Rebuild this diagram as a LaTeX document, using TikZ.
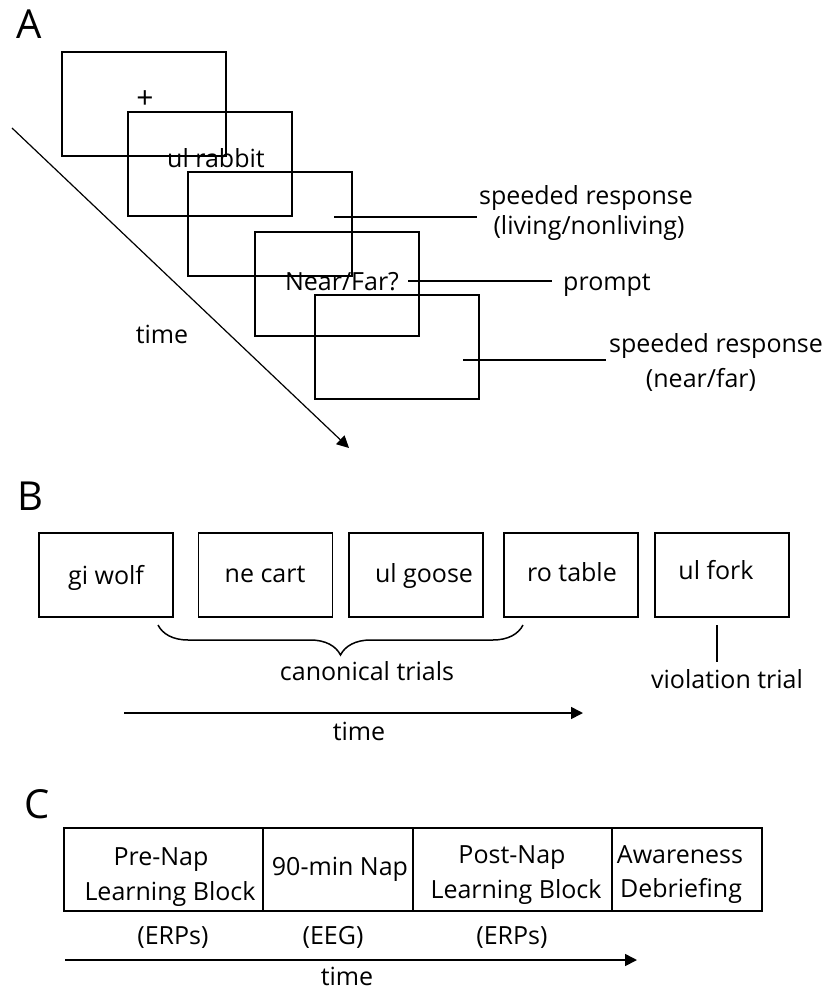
\documentclass[tikz,border=0pt]{standalone}
\usepackage{fontspec}
\setmainfont{Open Sans}
\usetikzlibrary{positioning,arrows.meta,decorations.pathreplacing}

\begin{document}
\begin{tikzpicture}[
	x = 1pt, y = -1pt, % pixel grid, y runs downwards
	> = {Triangle[length=12pt,width=12pt]}, % arrow head style
	font = \fontsize{25}{34}\selectfont,
	screen/.style = {draw, line width=1.5pt, minimum width=164pt, minimum height=104pt, inner sep=0pt},
	trial/.style = {draw, line width=1.5pt, minimum width=134pt, minimum height=84pt, inner sep=0pt},
	block/.style = {draw, line width=2.6pt, minimum height=83pt, inner sep=0pt, outer sep=0pt},
	word/.style = {anchor=base, inner sep=0pt},
	panel/.style = {anchor=base west, inner sep=0pt, font=\fontsize{40}{40}\selectfont},
	lead/.style = {line width=1.5pt}
	]
	\useasboundingbox (0,0) rectangle (830,992);
	
	% A: trial sequence
	\node[panel] (lA) at (16,39) {A};
	\node[screen] (s1) at (144,104) {};
	\node[screen] (s2) at (210,164) {};
	\node[screen] (s3) at (270,224) {};
	\node[screen] (s4) at (337,284) {};
	\node[screen] (s5) at (397,347) {};
	
	\node[inner sep=0pt, font=\fontsize{30}{30}\selectfont] (fix) at (145,100) {+};
	\node[word] (cue) at (216,168) {ul rabbit};
	\node[word] (nf) at (342,290) {Near/Far?};
	
	\node[word] (sr1) at (586,205) {speeded response};
	\node[word] (sr1b) at (589,235) {(living/nonliving)};
	\node[word] (pr) at (607,290) {prompt};
	\node[word] (sr2) at (716,352) {speeded response};
	\node[word] (sr2b) at (701,387) {(near/far)};
	
	\coordinate (r1) at (334,217);
	\coordinate (r3) at (463,360);
	\draw[lead, shorten >=2pt] (r1) -- (r1 -| sr1.west);
	\draw[lead, shorten <=9pt, shorten >=11pt] (nf.east) -- (nf.east -| pr.west);
	\draw[lead, shorten >=3pt] (r3) -- (r3 -| sr2.west);
	
	\coordinate (tA0) at (12,128);
	\coordinate (tA1) at (349,448);
	\draw[->, line width=1.2pt] (tA0) -- (tA1);
	\node[word] (timeA) at (162,343) {time};
	
	% B: canonical and violation trials
	\node[panel] (lB) at (17,510) {B};
	\node[trial] (t1) at (106,575) {};
	\node[trial] (t2) at (265.5,575) {};
	\node[trial] (t3) at (416,575) {};
	\node[trial] (t4) at (571,575) {};
	\node[trial] (t5) at (722,575) {};
	
	\node[word] (w1) at (106,584) {gi wolf};
	\node[word] (w2) at (265,582) {ne cart};
	\node[word] (w3) at (424,582) {ul goose};
	\node[word] (w4) at (572,581) {ro table};
	\node[word] (w5) at (716,579) {ul fork};
	
	\coordinate (br0) at (158,625);
	\coordinate (br1) at (523,625);
	\draw[lead, decorate, decoration={brace, mirror, amplitude=30pt}] (br0) -- (br1);
	\node[word] (can) at (367,680) {canonical trials};
	
	\coordinate (v0) at (717,625);
	\node[word] (vt) at (727,688) {violation trial};
	\draw[lead, shorten >=7pt] (v0) -- (v0 |- vt.north);
	
	\coordinate (tB0) at (124,713);
	\coordinate (tB1) at (583,713);
	\draw[->, line width=1.6pt] (tB0) -- (tB1);
	\node[word] (timeB) at (359,740) {time};
	
	% C: session timeline
	\node[panel] (lC) at (24,818) {C};
	\node[block, minimum width=199pt] (pre) at (163.5,869.5) {};
	\node[block, minimum width=150pt, right=0pt of pre] (nap) {};
	\node[block, minimum width=199pt, right=0pt of nap] (post) {};
	\node[block, minimum width=150pt, right=0pt of post] (aware) {};
	
	\node[word] (pre1) at (161,865) {Pre-Nap};
	\node[word] (pre2) at (170,900) {Learning Block};
	\node[word] (nap1) at (340,875) {90-min Nap};
	\node[word] (post1) at (512,863) {Post-Nap};
	\node[word] (post2) at (516,898) {Learning Block};
	\node[word] (aw1) at (680,863) {Awareness};
	\node[word] (aw2) at (681,897) {Debriefing};
	
	\node[word] (m1) at (173,944) {(ERPs)};
	\node[word] (m2) at (333,944) {(EEG)};
	\node[word] (m3) at (512,944) {(ERPs)};
	
	\coordinate (tC0) at (65,960);
	\coordinate (tC1) at (637,960);
	\draw[->, line width=1.6pt] (tC0) -- (tC1);
	\node[word] (timeC) at (347,985) {time};
\end{tikzpicture}
\end{document}
